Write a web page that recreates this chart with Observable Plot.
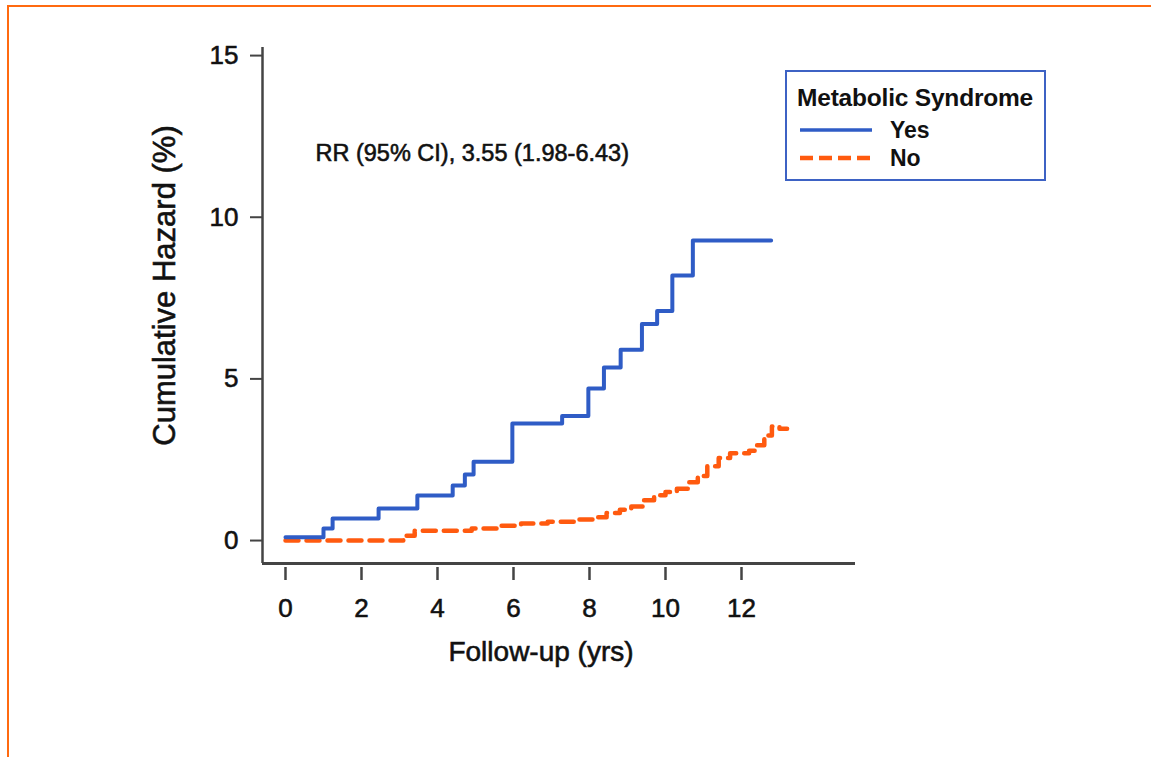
<!DOCTYPE html>
<html>
<head>
<meta charset="utf-8">
<script src="https://cdn.jsdelivr.net/npm/d3@7"></script>
<script src="https://cdn.jsdelivr.net/npm/@observablehq/plot@0.6"></script>
<style>
  html, body { margin: 0; padding: 0; background: #fff; }
  #wrap { position: relative; width: 1151px; height: 757px; overflow: hidden; font-family: "Liberation Sans", Arial, sans-serif; }
  #frame { position: absolute; left: 7px; top: 5px; width: 1200px; height: 800px; border-left: 2.5px solid #ff6a10; border-top: 2.5px solid #ff6a10; box-sizing: border-box; }
  #legend { position: absolute; left: 785px; top: 70px; width: 261px; height: 111px; border: 2px solid #3d62c4; box-sizing: border-box; background: #fff; }
  #legend .title { position: absolute; left: 10px; top: 12px; font-weight: bold; font-size: 24.5px; color: #111; letter-spacing: -0.2px; }
  #legend .row { position: absolute; left: 13px; height: 26px; display: flex; align-items: center; }
  #legend .row span { margin-left: 18px; font-size: 23px; font-weight: bold; color: #111; }
  #chart text { paint-order: stroke; stroke: #222; stroke-width: 0.6px; }
</style>
</head>
<body>
<div id="wrap">
  <div id="chart"></div>
  <div id="frame"></div>
  <div id="legend"></div>
</div>
<script>
// ---- data ----
const yesTime = [0, 1.0, 1.24, 2.45, 3.47, 4.4, 4.72, 4.95, 5.97, 7.28, 7.97, 8.38, 8.82, 9.38, 9.78, 10.18, 10.72, 12.78];
const yesHaz  = [0.1, 0.37, 0.68, 0.99, 1.39, 1.7, 2.04, 2.44, 3.62, 3.85, 4.7, 5.35, 5.9, 6.7, 7.1, 8.2, 9.28, 9.28];

const noTime = [0, 3.1, 3.4, 4.9, 5.6, 6.2, 6.9, 7.6, 8.1, 8.45, 8.8, 9.1, 9.4, 9.7, 10.0, 10.3, 10.6, 10.85, 11.1, 11.4, 11.7, 12.2, 12.4, 12.6, 12.8, 13.0, 13.2];
const noHaz  = [0, 0.15, 0.3, 0.37, 0.46, 0.53, 0.58, 0.65, 0.72, 0.85, 0.95, 1.05, 1.25, 1.4, 1.5, 1.6, 1.8, 2.0, 2.3, 2.55, 2.7, 2.78, 2.95, 3.25, 3.53, 3.46, 3.46];

const xTicks = [0, 2, 4, 6, 8, 10, 12];
const yTicks = [0, 5, 10, 15];
const groups = ["Yes", "No"];
const groupColors = ["#2f5cc6", "#ff5a0f"];
const legendTitle = "Metabolic Syndrome";
const annotation = "RR (95% CI), 3.55 (1.98-6.43)";
const xLabel = "Follow-up (yrs)";
const yLabel = "Cumulative Hazard (%)";

const yesData = yesTime.map((t, i) => ({t, h: yesHaz[i]}));
const noData = noTime.map((t, i) => ({t, h: noHaz[i]}));

const xMin = -0.605, yMin = -0.71;

const chart = Plot.plot({
  width: 1151,
  height: 757,
  marginLeft: 262,
  marginRight: 296,
  marginTop: 47,
  marginBottom: 194,
  style: {fontFamily: "'Liberation Sans', Arial, sans-serif", background: "#fff", color: "#111"},
  x: {domain: [xMin, 15]},
  y: {domain: [yMin, 15.25]},
  marks: [
    Plot.axisY({ticks: yTicks, tickSize: 12, tickPadding: 12, fontSize: 26, tickFormat: d3.format("d"), label: null, stroke: "#444", strokeWidth: 2}),
    Plot.axisX({ticks: xTicks, tickSize: 13, tickPadding: 18, fontSize: 26, tickFormat: d3.format("d"), label: null, stroke: "#444", strokeWidth: 2.5, dy: 4}),
    Plot.ruleY([yMin], {stroke: "#444", strokeWidth: 3}),
    Plot.ruleX([xMin], {stroke: "#444", strokeWidth: 2.5}),
    Plot.line(noData, {x: "t", y: "h", curve: "step-after", stroke: groupColors[1], strokeWidth: 4.5, strokeDasharray: "13,8"}),
    Plot.line(yesData, {x: "t", y: "h", curve: "step-after", stroke: groupColors[0], strokeWidth: 4}),
    Plot.text([annotation], {frameAnchor: "top-left", dx: 53, dy: 106, textAnchor: "start", lineAnchor: "middle", fontSize: 23.5, fill: "#111"}),
    Plot.text([xLabel], {frameAnchor: "bottom", dx: -18, dy: 89, textAnchor: "middle", lineAnchor: "middle", fontSize: 28, fill: "#111"}),
    Plot.text([yLabel], {frameAnchor: "left", dx: -97, dy: -20, rotate: -90, textAnchor: "middle", lineAnchor: "middle", fontSize: 31, fill: "#111"})
  ]
});
document.getElementById("chart").appendChild(chart);

// legend
const legend = document.getElementById("legend");
const t = document.createElement("div");
t.className = "title"; t.textContent = legendTitle;
legend.appendChild(t);
groups.forEach((g, i) => {
  const row = document.createElement("div");
  row.className = "row";
  row.style.top = (45 + i * 28) + "px";
  const dash = i === 1 ? ' stroke-dasharray="13,6"' : '';
  row.innerHTML = `<svg width="72" height="10"><line x1="0" x2="72" y1="5" y2="5" stroke="${groupColors[i]}" stroke-width="${i ? 4.5 : 3.5}"${dash}/></svg><span>${g}</span>`;
  legend.appendChild(row);
});
</script>
</body>
</html>
